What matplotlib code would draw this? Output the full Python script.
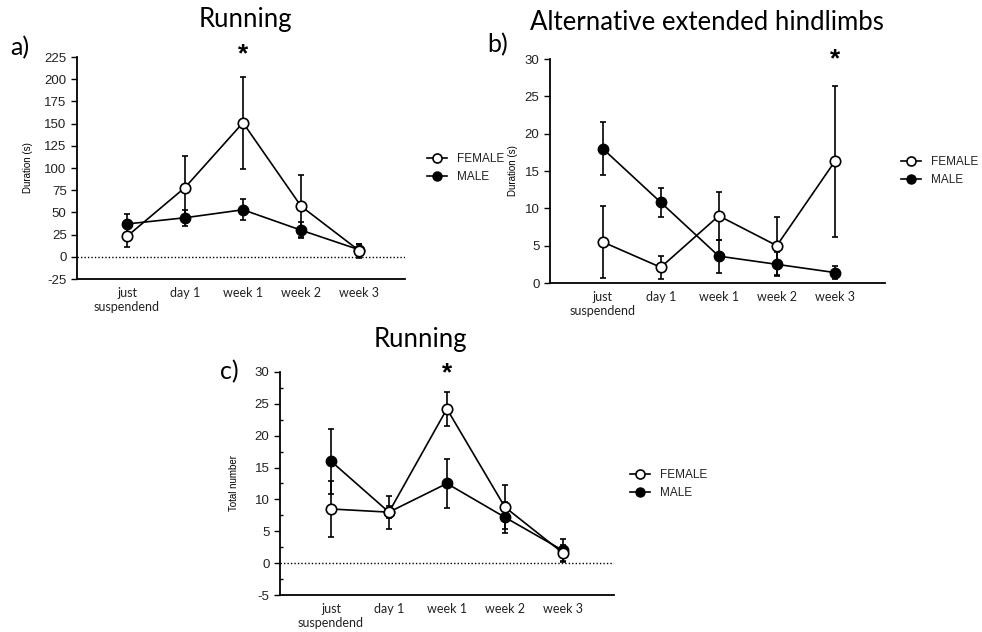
import numpy as np
import matplotlib.pyplot as plt
from matplotlib.lines import Line2D
from matplotlib.ticker import MultipleLocator

plt.rcParams['axes.unicode_minus'] = False

# time points
timepoints = ['just\nsuspendend', 'day 1', 'week 1', 'week 2', 'week 3']

# a) running duration (s)
run_dur_female = [23, 78, 151, 57, 7]
run_dur_female_err = [12, 35, 52, 35, 8]
run_dur_male = [37, 44, 53, 30, 8]
run_dur_male_err = [11, 9, 12, 9, 7]

# b) alternative extended hindlimbs duration (s)
hind_female = [5.5, 2.1, 9.0, 5.0, 16.3]
hind_female_err = [4.8, 1.5, 3.2, 3.9, 10.1]
hind_male = [18.0, 10.8, 3.6, 2.5, 1.4]
hind_male_err = [3.6, 1.9, 2.2, 1.6, 0.9]

# c) running total number
run_num_female = [8.5, 8.0, 24.2, 8.8, 1.6]
run_num_female_err = [4.4, 0.9, 2.7, 3.4, 1.2]
run_num_male = [16.0, 8.0, 12.5, 7.2, 2.0]
run_num_male_err = [5.1, 2.6, 3.8, 2.4, 1.8]

TICK_FONT = 'Liberation Sans'
LABEL_FONT = 'Lato'


def draw_panel(ax, fem, fem_err, male, male_err, ylim, ystep, ylabel, xlim,
               label_x, zero_line=False, minor=None):
    x = np.arange(len(timepoints))
    if zero_line:
        ax.axhline(0, color='black', lw=1, ls=(0, (1, 1.5)), zorder=1)
    ax.errorbar(x, male, yerr=male_err, color='black', lw=1.2, marker='o',
                ms=7.5, mfc='black', mec='black', capsize=2.5, capthick=1.2,
                elinewidth=1.2, zorder=3)
    ax.errorbar(x, fem, yerr=fem_err, color='black', lw=1.2, marker='o',
                ms=7.5, mfc='white', mec='black', mew=1.2, capsize=2.5,
                capthick=1.2, elinewidth=1.2, zorder=4)
    ax.set_xlim(*xlim)
    ax.set_ylim(*ylim)
    ax.yaxis.set_major_locator(MultipleLocator(ystep))
    if minor:
        ax.yaxis.set_minor_locator(MultipleLocator(minor))
        ax.tick_params(axis='y', which='minor', length=2, width=1, direction='in')
    ax.spines['top'].set_visible(False)
    ax.spines['right'].set_visible(False)
    ax.spines['left'].set_linewidth(1.3)
    ax.spines['bottom'].set_linewidth(1.3)
    ax.set_xticks(x)
    ax.set_xticklabels(timepoints, fontsize=9, family=LABEL_FONT, color='#222222')
    ax.tick_params(axis='x', length=0, pad=6)
    ax.tick_params(axis='y', which='major', length=4, width=1, labelsize=9.5)
    for lab in ax.get_yticklabels():
        lab.set_family(TICK_FONT)
        lab.set_color('#222222')
    ax.set_ylabel(ylabel, fontsize=7, family=TICK_FONT, labelpad=2)
    ax.yaxis.set_label_coords(label_x, 0.5)


fig = plt.figure(figsize=(9.82, 6.32), dpi=100)

ax_a = fig.add_axes([0.0784, 0.5585, 0.334, 0.3513])
draw_panel(ax_a, run_dur_female, run_dur_female_err, run_dur_male, run_dur_male_err,
           (-25, 225), 25, 'Duration (s)', (-0.86, 4.79), -0.134, zero_line=True)
ax_a.text(2, 228, '*', ha='center', va='center', fontsize=19, fontweight='bold',
          family=TICK_FONT)

ax_b = fig.add_axes([0.560, 0.5522, 0.341, 0.3544])
draw_panel(ax_b, hind_female, hind_female_err, hind_male, hind_male_err,
           (0, 30), 5, 'Duration (s)', (-0.91, 4.86), -0.095)
ax_b.text(4, 30.0, '*', ha='center', va='center', fontsize=19, fontweight='bold',
          family=TICK_FONT)

ax_c = fig.add_axes([0.2851, 0.0585, 0.340, 0.353])
draw_panel(ax_c, run_num_female, run_num_female_err, run_num_male, run_num_male_err,
           (-5, 30), 5, 'Total number', (-0.88, 4.88), -0.124, zero_line=True,
           minor=2.5)
ax_c.text(2, 29.8, '*', ha='center', va='center', fontsize=19, fontweight='bold',
          family=TICK_FONT)

# titles and panel letters
fig.text(245 / 982, 1 - 20 / 632, 'Running', ha='center', va='center',
         fontsize=18.5, family=LABEL_FONT)
fig.text(707 / 982, 1 - 22 / 632, 'Alternative extended hindlimbs', ha='center',
         va='center', fontsize=18.5, family=LABEL_FONT)
fig.text(420 / 982, 1 - 340 / 632, 'Running', ha='center', va='center',
         fontsize=18.5, family=LABEL_FONT)
fig.text(10 / 982, 1 - 48 / 632, 'a)', ha='left', va='center', fontsize=18, family=LABEL_FONT)
fig.text(487 / 982, 1 - 45 / 632, 'b)', ha='left', va='center', fontsize=18, family=LABEL_FONT)
fig.text(220 / 982, 1 - 372 / 632, 'c)', ha='left', va='center', fontsize=18, family=LABEL_FONT)

# legend entries without error bars
female_key = Line2D([], [], color='black', lw=1.2, marker='o', ms=6.5,
                    mfc='white', mec='black', mew=1.2)
male_key = Line2D([], [], color='black', lw=1.2, marker='o', ms=6.5,
                  mfc='black', mec='black')

for ax, (lx, ly) in [(ax_a, (416, 168)), (ax_b, (890, 171)), (ax_c, (619, 484))]:
    leg = ax.legend([female_key, male_key], ['FEMALE', 'MALE'], loc='center left',
                    bbox_to_anchor=(lx / 982, 1 - ly / 632),
                    bbox_transform=fig.transFigure, frameon=False,
                    prop={'family': TICK_FONT, 'size': 8.5},
                    handlelength=1.7, handletextpad=0.9, labelspacing=0.55)
    for t in leg.get_texts():
        t.set_color('#222222')

fig.savefig('out.png', dpi=100)
